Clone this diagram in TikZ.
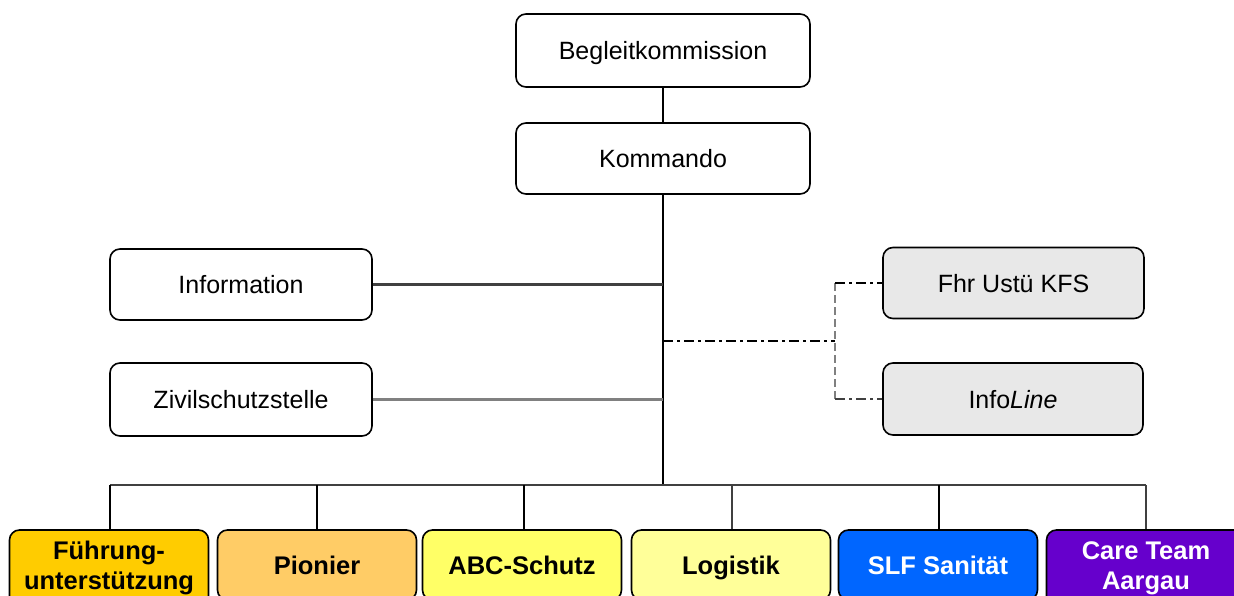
\documentclass[tikz,border=0pt]{standalone}
\usepackage{fontspec}
\setmainfont{Liberation Sans}
\definecolor{fuehrung}{HTML}{FFCC00}
\definecolor{pionier}{HTML}{FFCC66}
\definecolor{abc}{HTML}{FFFF66}
\definecolor{logistik}{HTML}{FFFF99}
\definecolor{slf}{HTML}{0066FF}
\definecolor{care}{HTML}{6600CC}
\definecolor{staff}{HTML}{E8E8E8}
\definecolor{darkline}{HTML}{404040}
\definecolor{midline}{HTML}{808080}
\tikzset{
  orgbox/.style={draw=black, line width=1.6pt, rounded corners=10pt, inner sep=0pt,
    text height=20pt, text depth=2pt, font=\fontsize{25}{29}\selectfont},
  unitbox/.style={draw=black, line width=1.6pt, rounded corners=10pt, inner sep=0pt,
    minimum width=199pt, minimum height=70pt,
    font=\fontsize{25.5}{30}\selectfont\bfseries},
  oneline/.style={text height=20.5pt, text depth=2pt},
  twolines/.style={align=center, minimum height=76pt},
  solidlink/.style={line width=2pt, black},
  dashdot/.style={line width=1.6pt, dash pattern=on 10pt off 4pt on 3pt off 4pt},
}
\begin{document}
\begin{tikzpicture}[x=1pt, y=-1pt]
\clip (0,0) rectangle (1234,596);
\fill[white] (0,0) rectangle (1234,596);

% management
\node[orgbox, minimum width=294pt, minimum height=73pt] (beg) at (663,50.5) {Begleitkommission};
\node[orgbox, minimum width=294pt, minimum height=71pt] (kom) at (663,158.5) {Kommando};

% staff units
\node[orgbox, minimum width=262pt, minimum height=71pt] (info) at (241,284.5) {Information};
\node[orgbox, minimum width=262pt, minimum height=73pt] (ziv) at (241,399.5) {Zivilschutzstelle};
\node[orgbox, fill=staff, minimum width=261pt, minimum height=71pt] (fhr) at (1013.5,283) {Fhr Ustü KFS};
\node[orgbox, fill=staff, minimum width=260pt, minimum height=72pt] (ifl) at (1013,399) {Info\textit{Line}};

% operational units
\node[unitbox, twolines, fill=fuehrung] (fu) at (109,568) {Führung-\\unterstützung};
\node[unitbox, oneline, fill=pionier] (pio) at (317,565) {Pionier};
\node[unitbox, oneline, fill=abc] (abc) at (522,565) {ABC-Schutz};
\node[unitbox, oneline, fill=logistik] (log) at (731,565) {Logistik};
\node[unitbox, oneline, fill=slf, text=white] (slf) at (938,565) {SLF Sanität};
\node[unitbox, twolines, fill=care, text=white] (care) at (1146,568) {Care Team\\Aargau};

% junction points
\coordinate (bus) at (663,485);
\coordinate (busL) at (110,485);
\coordinate (busR) at (1146,485);
\coordinate (split) at (835,341);
\coordinate (sj) at (663,341);

% chain of command
\draw[solidlink, line width=1.6pt] (beg) -- (kom);
\draw[solidlink] (kom.south) -- (bus);
\draw[darkline, line width=2.4pt] (info.east) -- (info.east -| kom.south);
\draw[midline, line width=2.4pt] (ziv.east) -- (ziv.east -| kom.south);

% staff links (dash-dot)
\draw[dashdot, black] (sj) -- (split);
\draw[midline, line width=1.6pt, dash pattern=on 8pt off 4pt] (split |- fhr.west) -- (split |- ifl.west);
\draw[dashdot, black] (split |- fhr.west) -- (fhr.west);
\draw[dashdot, darkline] (split |- ifl.west) -- (ifl.west);

% bus to units
\draw[darkline, line width=2.4pt] (busL) -- (busR);
\draw[solidlink] (busL) -- (fu.north -| busL);
\draw[solidlink] (pio.north |- bus) -- (pio.north);
\draw[solidlink] ([xshift=2pt]abc.north |- bus) -- ([xshift=2pt]abc.north);
\draw[darkline, line width=2pt] ([xshift=1pt]log.north |- bus) -- ([xshift=1pt]log.north);
\draw[solidlink] ([xshift=1pt]slf.north |- bus) -- ([xshift=1pt]slf.north);
\draw[darkline, line width=2pt] (busR) -- (care.north);
\end{tikzpicture}
\end{document}
